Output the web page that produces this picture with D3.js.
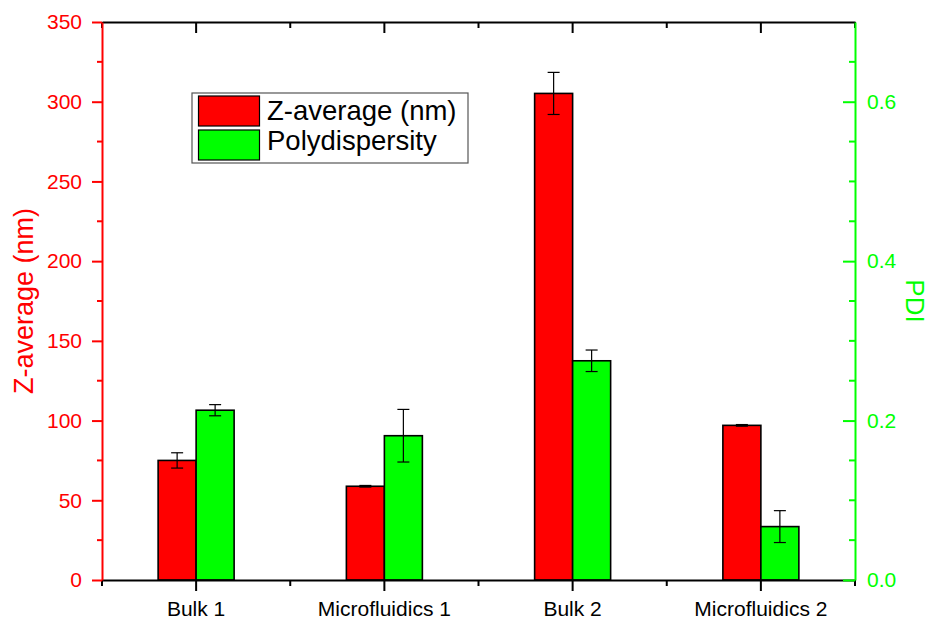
<!DOCTYPE html>
<html>
<head>
<meta charset="utf-8">
<script src="https://cdn.jsdelivr.net/npm/d3@7"></script>
<style>
  html, body { margin: 0; padding: 0; background: #fff; }
  svg { display: block; font-family: "Liberation Sans", Arial, sans-serif; }
</style>
</head>
<body>
<svg id="chart" width="930" height="619"></svg>
<script>
const categories = ["Bulk 1", "Microfluidics 1", "Bulk 2", "Microfluidics 2"];
const zAverage = [75.0, 58.8, 305.2, 97.0];
const zAverageErr = [4.8, 0.5, 13.2, 0.5];
const pdi = [0.213, 0.181, 0.275, 0.067];
const pdiErr = [0.007, 0.033, 0.0135, 0.020];
const leftTicks = [0, 50, 100, 150, 200, 250, 300, 350];
const rightTicks = [0.0, 0.2, 0.4, 0.6];
const seriesNames = ["Z-average (nm)", "Polydispersity"];

(function () {
const RED = "#ff0000", GREEN = "#00ff00";
const svg = d3.select("#chart");
const pL = 102, pR = 855, pT = 22, pB = 580;

const x = d3.scaleBand().domain(categories).range([pL, pR]).padding(0);
const yL = d3.scaleLinear().domain([0, 350]).range([pB, pT]);
const yR = d3.scaleLinear().domain([0, 0.7]).range([pB, pT]);
const barW = 38;
const sub = d3.scaleBand().domain([0, 1]).range([-barW, barW]);

const series = [
  { name: seriesNames[0], vals: zAverage, errs: zAverageErr, y: yL, color: RED },
  { name: seriesNames[1], vals: pdi, errs: pdiErr, y: yR, color: GREEN }
];

// bars
series.forEach((s, si) => {
  const g = svg.append("g");
  categories.forEach((c, i) => {
    const cx = x(c) + x.bandwidth() / 2;
    g.append("rect")
      .attr("x", cx + sub(si))
      .attr("y", s.y(s.vals[i]))
      .attr("width", sub.bandwidth())
      .attr("height", s.y(0) - s.y(s.vals[i]))
      .attr("fill", s.color)
      .attr("stroke", "#000")
      .attr("stroke-width", 1.6);
  });
});

// error bars
series.forEach((s, si) => {
  const g = svg.append("g").attr("stroke", "#000").attr("stroke-width", 1.2);
  categories.forEach((c, i) => {
    const cx = x(c) + x.bandwidth() / 2 + sub(si) + sub.bandwidth() / 2;
    const y1 = s.y(s.vals[i] + s.errs[i]);
    const y2 = s.y(s.vals[i] - s.errs[i]);
    g.append("line").attr("x1", cx).attr("x2", cx).attr("y1", y1).attr("y2", y2);
    g.append("line").attr("x1", cx - 6).attr("x2", cx + 6).attr("y1", y1).attr("y2", y1);
    g.append("line").attr("x1", cx - 6).attr("x2", cx + 6).attr("y1", y2).attr("y2", y2);
  });
});

// bottom axis
const bAxis = svg.append("g").attr("transform", `translate(0,${pB})`)
  .call(d3.axisBottom(x).tickSize(11).tickPadding(10).tickSizeOuter(0));
bAxis.select(".domain").attr("stroke", "#000").attr("stroke-width", 2);
bAxis.selectAll(".tick line").attr("stroke", "#000").attr("stroke-width", 2);
bAxis.selectAll(".tick text").attr("font-size", 21).attr("fill", "#000")
  .attr("font-family", "Liberation Sans, Arial, sans-serif");
const boundaries = categories.map(c => x(c)).concat([x.range()[1]]);
svg.append("g").selectAll("line").data(boundaries).join("line")
  .attr("x1", d => d).attr("x2", d => d).attr("y1", pB).attr("y2", pB + 6)
  .attr("stroke", "#000").attr("stroke-width", 2);

// top axis
const tAxis = svg.append("g").attr("transform", `translate(0,${pT})`)
  .call(d3.axisTop(x).tickSize(-11).tickSizeOuter(0).tickFormat(""));
tAxis.select(".domain").attr("stroke", "#000").attr("stroke-width", 2);
tAxis.selectAll(".tick line").attr("stroke", "#000").attr("stroke-width", 2);
svg.append("g").selectAll("line").data(boundaries).join("line")
  .attr("x1", d => d).attr("x2", d => d).attr("y1", pT).attr("y2", pT + 6)
  .attr("stroke", "#000").attr("stroke-width", 2);

// left axis
const lAxis = svg.append("g").attr("transform", `translate(${pL},0)`)
  .call(d3.axisLeft(yL).tickValues(leftTicks).tickSize(10).tickPadding(10).tickSizeOuter(0));
lAxis.select(".domain").attr("stroke", RED).attr("stroke-width", 2);
lAxis.selectAll(".tick line").attr("stroke", RED).attr("stroke-width", 2);
lAxis.selectAll(".tick text").attr("font-size", 21).attr("fill", RED)
  .attr("font-family", "Liberation Sans, Arial, sans-serif");
const leftMinor = d3.range(25, 350, 50);
svg.append("g").selectAll("line").data(leftMinor).join("line")
  .attr("x1", pL - 5).attr("x2", pL).attr("y1", d => yL(d)).attr("y2", d => yL(d))
  .attr("stroke", RED).attr("stroke-width", 2);

// right axis
const rAxis = svg.append("g").attr("transform", `translate(${pR},0)`)
  .call(d3.axisRight(yR).tickValues(rightTicks).tickFormat(d3.format(".1f"))
    .tickSize(-12).tickPadding(12).tickSizeOuter(0));
rAxis.select(".domain").attr("stroke", GREEN).attr("stroke-width", 2);
rAxis.selectAll(".tick line").attr("stroke", GREEN).attr("stroke-width", 2);
rAxis.selectAll(".tick text").attr("font-size", 21).attr("fill", GREEN)
  .attr("font-family", "Liberation Sans, Arial, sans-serif");
const rightMinor = d3.range(1, 14, 1).map(k => k * 0.05).filter(v => Math.round(v * 100) % 20 !== 0);
svg.append("g").selectAll("line").data(rightMinor).join("line")
  .attr("x1", pR - 6).attr("x2", pR).attr("y1", d => yR(d)).attr("y2", d => yR(d))
  .attr("stroke", GREEN).attr("stroke-width", 2);

// axis titles
svg.append("text")
  .attr("transform", `translate(33,${(pT + pB) / 2}) rotate(-90)`)
  .attr("text-anchor", "middle")
  .attr("font-size", 27).attr("fill", RED)
  .text("Z-average (nm)");
svg.append("text")
  .attr("transform", `translate(906,${(pT + pB) / 2}) rotate(90)`)
  .attr("text-anchor", "middle")
  .attr("font-size", 26).attr("fill", GREEN)
  .text("PDI");

// legend
const leg = svg.append("g");
leg.append("rect").attr("x", 192).attr("y", 93).attr("width", 276).attr("height", 70)
  .attr("fill", "#fff").attr("stroke", "#555").attr("stroke-width", 1.2);
series.forEach((s, i) => {
  leg.append("rect").attr("x", 198.5).attr("y", 96 + i * 34).attr("width", 61).attr("height", 30)
    .attr("fill", s.color).attr("stroke", "#000").attr("stroke-width", 1.2);
  leg.append("text").attr("x", 267).attr("y", 120 + i * 30)
    .attr("font-size", 27.5).attr("fill", "#000").text(s.name);
});
})();
</script>
</body>
</html>
